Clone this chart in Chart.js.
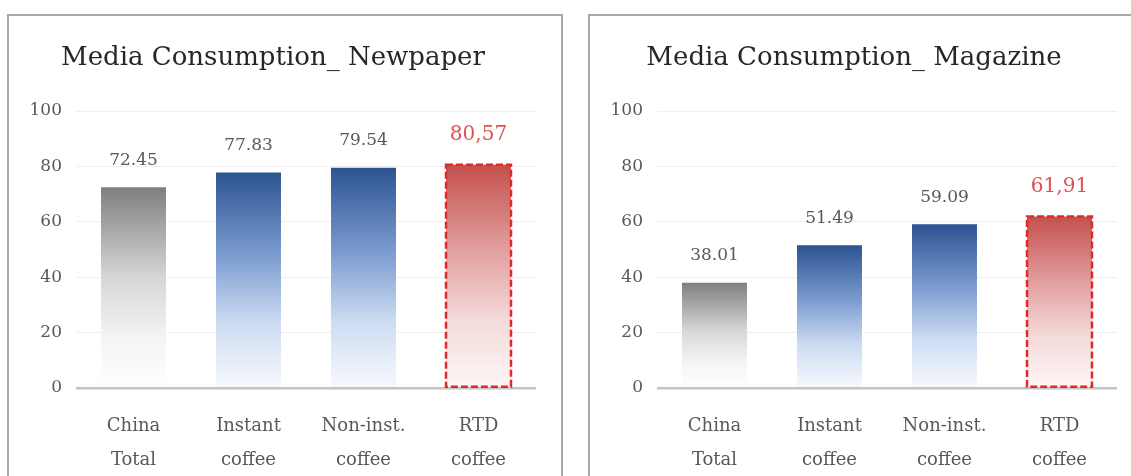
<!DOCTYPE html>
<html>
<head>
<meta charset="utf-8">
<script src="https://cdn.jsdelivr.net/npm/chart.js@4.4.1/dist/chart.umd.min.js"></script>
<style>
  html, body { margin: 0; padding: 0; background: #fff; overflow: hidden; width: 1131px; height: 476px; }
  .panel { position: absolute; top: 14px; width: 556px; height: 520px; border: 2px solid #a8a8a8; box-sizing: border-box; }
  canvas { position: absolute; }
</style>
</head>
<body>
<div class="panel" style="left:7px"></div>
<div class="panel" style="left:588px"></div>
<canvas id="newspaperChart" width="550" height="459" style="left:10px;top:17px"></canvas>
<canvas id="magazineChart" width="550" height="459" style="left:591px;top:17px"></canvas>
<script>
// data
const categories = [['China', 'Total'], ['Instant', 'coffee'], ['Non-inst.', 'coffee'], ['RTD', 'coffee']];
const newspaperValues = [72.45, 77.83, 79.54, 80.57];
const magazineValues = [38.01, 51.49, 59.09, 61.91];
const yTicks = [0, 20, 40, 60, 80, 100];
const highlightIndex = 3; // RTD coffee gets the red dashed bar

Chart.defaults.font.family = "'DejaVu Serif', serif";
Chart.defaults.color = '#595959';

// gradient stops per bar, top -> baseline
const barStops = [
    [[0, '#7f7f7f'], [0.45, '#d6d6d6'], [0.75, '#f4f4f4'], [1, '#ffffff']],
    [[0, '#2c5391'], [0.4, '#7f9fd2'], [0.7, '#cddcf2'], [1, '#f7f9fd']],
    [[0, '#2c5391'], [0.4, '#7f9fd2'], [0.7, '#cddcf2'], [1, '#f7f9fd']],
    [[0, '#c4504d'], [0.4, '#e3a3a2'], [0.7, '#f5dada'], [1, '#fdf6f6']]
];

function barFill(ctx) {
    const chart = ctx.chart;
    const yScale = chart.scales.y;
    if (ctx.dataIndex === undefined || !chart.chartArea || !yScale) return '#cccccc';
    const value = chart.data.datasets[ctx.datasetIndex].data[ctx.dataIndex];
    const top = yScale.getPixelForValue(value);
    const base = yScale.getPixelForValue(0);
    const g = chart.ctx.createLinearGradient(0, top, 0, base);
    barStops[ctx.dataIndex].forEach(s => g.addColorStop(s[0], s[1]));
    return g;
}

// value labels above bars + dashed outline on the highlighted bar
const barDecor = {
    id: 'barDecor',
    afterDatasetsDraw(chart) {
        const ctx = chart.ctx;
        const meta = chart.getDatasetMeta(0);
        const values = chart.data.datasets[0].data;
        meta.data.forEach((bar, i) => {
            const p = bar.getProps(['x', 'y', 'base', 'width'], true);
            ctx.save();
            if (i === highlightIndex) {
                ctx.setLineDash([7, 3]);
                ctx.lineWidth = 2.5;
                ctx.strokeStyle = '#e02a2a';
                ctx.strokeRect(p.x - p.width / 2, p.y, p.width, p.base - p.y);
                ctx.setLineDash([]);
                ctx.font = "20px 'DejaVu Serif', serif";
                ctx.fillStyle = '#e0504f';
            } else {
                ctx.font = "17px 'DejaVu Serif', serif";
                ctx.fillStyle = '#595959';
            }
            let text = values[i].toFixed(2);
            if (i === highlightIndex) text = text.replace('.', ',');
            ctx.textAlign = 'center';
            ctx.textBaseline = 'middle';
            ctx.fillText(text, p.x, p.y - (i === highlightIndex ? 30 : 27));
            ctx.restore();
        });
    }
};

function makeChart(id, title, values) {
    return new Chart(document.getElementById(id), {
        type: 'bar',
        data: {
            labels: categories,
            datasets: [{
                data: values,
                backgroundColor: barFill,
                borderWidth: 0,
                barPercentage: 0.565,
                categoryPercentage: 1
            }]
        },
        options: {
            responsive: false,
            animation: false,
            layout: { padding: { left: 0, right: 24, top: 0, bottom: 0 } },
            plugins: {
                legend: { display: false },
                tooltip: { enabled: false },
                title: {
                    display: true,
                    text: title,
                    color: '#262626',
                    font: { size: 26, weight: 'normal', lineHeight: 1.2 },
                    padding: { top: 26, bottom: 36.8 }
                }
            },
            scales: {
                x: {
                    grid: { display: false },
                    border: { display: false },
                    ticks: {
                        color: '#595959',
                        font: { size: 18, lineHeight: 1.9 },
                        padding: 13,
                        maxRotation: 0
                    },
                    afterFit: s => { s.height = 88; }
                },
                y: {
                    min: 0,
                    max: 100,
                    afterBuildTicks: s => { s.ticks = yTicks.map(v => ({ value: v })); },
                    grid: {
                        drawTicks: false,
                        color: c => c.tick.value === 0 ? '#c4c4c4' : '#efefef',
                        lineWidth: c => c.tick.value === 0 ? 2.5 : 1
                    },
                    border: { display: false },
                    ticks: { color: '#595959', font: { size: 17 }, padding: 14 },
                    afterFit: s => { s.width = 66; }
                }
            }
        },
        plugins: [barDecor]
    });
}

makeChart('newspaperChart', 'Media Consumption_ Newpaper', newspaperValues);
makeChart('magazineChart', 'Media Consumption_ Magazine', magazineValues);
</script>
</body>
</html>
